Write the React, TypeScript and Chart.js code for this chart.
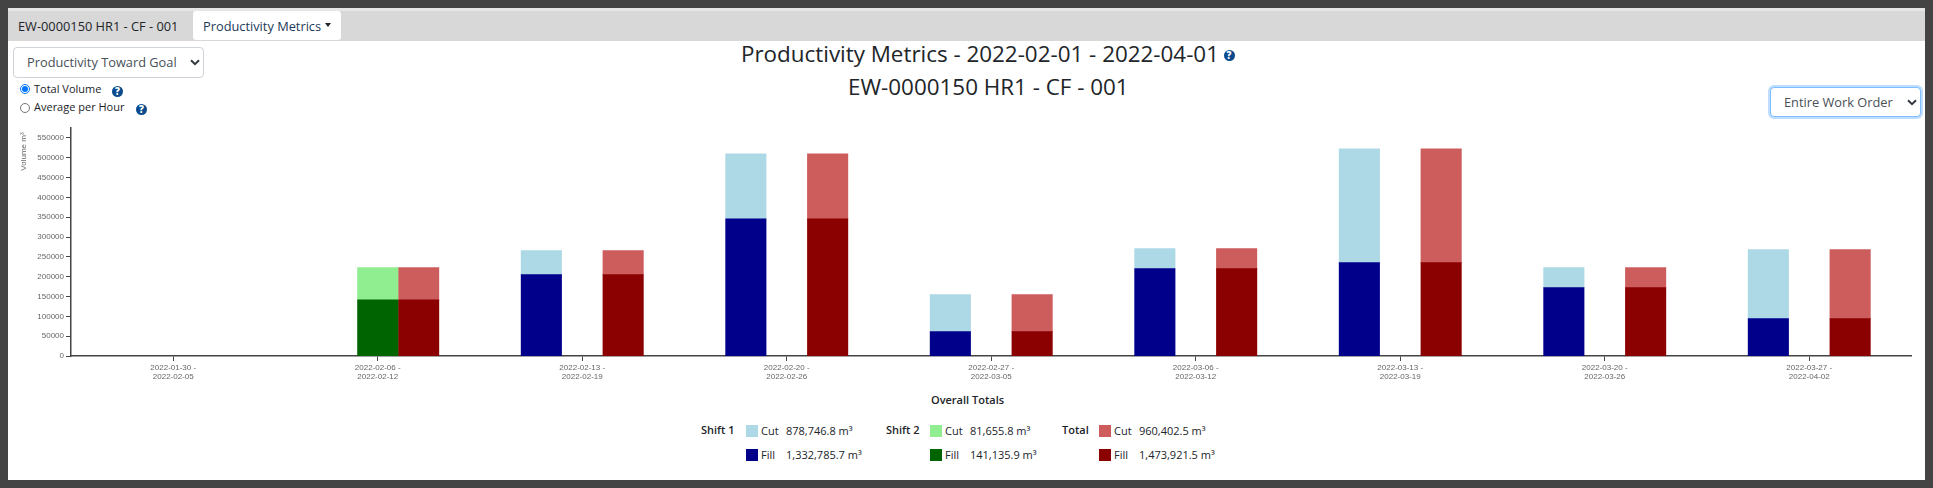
import React, { useEffect, useRef } from "react";
import { Chart, registerables } from "chart.js";

Chart.register(...registerables);

const weeks: string[][] = [
  ["2022-01-30 -", "2022-02-05"],
  ["2022-02-06 -", "2022-02-12"],
  ["2022-02-13 -", "2022-02-19"],
  ["2022-02-20 -", "2022-02-26"],
  ["2022-02-27 -", "2022-03-05"],
  ["2022-03-06 -", "2022-03-12"],
  ["2022-03-13 -", "2022-03-19"],
  ["2022-03-20 -", "2022-03-26"],
  ["2022-03-27 -", "2022-04-02"],
];
const yTickValues = [0, 50000, 100000, 150000, 200000, 250000, 300000, 350000, 400000, 450000, 500000, 550000];
const shift1Fill = [null, null, 204800, 345800, 61200, 219900, 235000, 172000, 94000];
const shift1Cut = [null, null, 60400, 163700, 93100, 50300, 287100, 50400, 173700];
const shift2Fill = [null, 141135.9, null, null, null, null, null, null, null];
const shift2Cut = [null, 81655.8, null, null, null, null, null, null, null];
const totalFill = [null, 141135.9, 204800, 345800, 61200, 219900, 235000, 172000, 94000];
const totalCut = [null, 81655.8, 60400, 163700, 93100, 50300, 287100, 50400, 173700];

const UI = "'Open Sans', sans-serif";
const ink = "#212529";

const abs = (left: number, top: number, extra: React.CSSProperties = {}): React.CSSProperties => ({
  position: "absolute",
  left,
  top,
  whiteSpace: "nowrap",
  fontFamily: UI,
  ...extra,
});

function Help({ x, y, r = 5.5 }: { x: number; y: number; r?: number }) {
  return (
    <div
      style={abs(x - r, y - r, {
        width: r * 2,
        height: r * 2,
        borderRadius: "50%",
        background: "#0b4a8c",
        color: "#fff",
        fontSize: r * 1.75,
        fontWeight: 800,
        lineHeight: `${r * 2}px`,
        textAlign: "center",
      })}
    >
      ?
    </div>
  );
}

function Chevron({ x, y }: { x: number; y: number }) {
  return (
    <svg style={{ position: "absolute", left: x, top: y }} width="10" height="7" viewBox="0 0 10 7">
      <path d="M1 1.2 L5 5.2 L9 1.2" fill="none" stroke="#343a40" strokeWidth="2" />
    </svg>
  );
}

function Select({ x, y, w, h, text, tx, focus }: { x: number; y: number; w: number; h: number; text: string; tx: number; focus?: boolean }) {
  return (
    <div
      style={abs(x, y, {
        width: w,
        height: h,
        boxSizing: "border-box",
        border: `1px solid ${focus ? "#80bdff" : "#ced4da"}`,
        borderRadius: 4,
        boxShadow: focus ? "0 0 0 2px rgba(0,123,255,.25)" : "none",
        background: "#fff",
      })}
    >
      <div style={abs(tx, 0, { lineHeight: `${h - 2}px`, fontSize: 12.8, color: "#495057" })}>{text}</div>
      <Chevron x={w - 15} y={h / 2 - 4.5} />
    </div>
  );
}

function LegendRow({ y, x0, swatch, kind, value, label }: { y: number; x0: number; swatch: string; kind: string; value: string; label?: { text: string; x: number } }) {
  return (
    <>
      {label && (
        <div style={abs(label.x, y - 9, { fontSize: 11, fontWeight: 600, lineHeight: "16px", color: ink })}>{label.text}</div>
      )}
      <div style={{ position: "absolute", left: x0, top: y - 6, width: 12, height: 12, background: swatch }} />
      <div style={abs(x0 + 15, y - 8, { fontSize: 11, lineHeight: "16px", color: ink })}>{kind}</div>
      <div style={abs(x0 + 40, y - 8, { fontSize: 11, lineHeight: "16px", color: ink })}>{value}</div>
    </>
  );
}

export default function App() {
  const ref = useRef<HTMLCanvasElement | null>(null);

  useEffect(() => {
    if (!ref.current) return;
    const bar = (label: string, data: (number | null)[], backgroundColor: string, stack: string) => ({
      label,
      data,
      backgroundColor,
      stack,
      borderWidth: 0,
      inflateAmount: 0.5,
      categoryPercentage: 0.6,
      barPercentage: 0.98,
    });
    const chart = new Chart(ref.current, {
      type: "bar",
      data: {
        labels: weeks,
        datasets: [
          bar("Shift 1 Fill", shift1Fill, "#00008b", "s1"),
          bar("Shift 1 Cut", shift1Cut, "#add8e6", "s1"),
          bar("Shift 2 Fill", shift2Fill, "#006400", "s2"),
          bar("Shift 2 Cut", shift2Cut, "#90ee90", "s2"),
          bar("Total Fill", totalFill, "#8b0000", "t"),
          bar("Total Cut", totalCut, "#cd5c5c", "t"),
        ],
      },
      options: {
        animation: false,
        responsive: false,
        devicePixelRatio: 1,
        layout: { padding: { top: 8, right: 13.5, left: 0, bottom: 0 } },
        plugins: { legend: { display: false }, title: { display: false }, tooltip: { enabled: false } },
        scales: {
          x: {
            stacked: true,
            afterFit: (s: any) => {
              s.height = 24;
            },
            border: { color: "#444", width: 1.5 },
            grid: { drawOnChartArea: false, offset: false, tickColor: "#444", tickLength: 5, tickWidth: 1 },
            ticks: {
              autoSkip: false,
              maxRotation: 0,
              color: "#666",
              padding: 2,
              font: { family: "'Liberation Sans', Arial", size: 8, lineHeight: 1.12 },
            },
          },
          y: {
            stacked: true,
            bounds: "data",
            min: 0,
            max: 575000,
            afterBuildTicks: (s: any) => {
              s.ticks = yTickValues.map((value) => ({ value }));
            },
            afterFit: (s: any) => {
              s.width = 63;
            },
            border: { color: "#444", width: 1.5 },
            grid: { drawOnChartArea: false, tickColor: "#444", tickLength: 5, tickWidth: 1 },
            title: {
              display: true,
              text: "Volume m³  ",
              align: "end",
              color: "#666",
              padding: { top: 11, bottom: 0 },
              font: { family: "'Liberation Sans', Arial", size: 8 },
            },
            ticks: {
              callback: (v: any) => String(v),
              color: "#666",
              padding: 2,
              font: { family: "'Liberation Sans', Arial", size: 8 },
            },
          },
        },
      },
    } as any);
    return () => chart.destroy();
  }, []);

  return (
    <div style={{ position: "fixed", left: 0, top: 0, width: 1933, height: 488, background: "#444", overflow: "hidden" }}>
      <div style={{ position: "absolute", left: 8, top: 8, width: 1917, height: 472, background: "#fff" }}>
        <div style={{ position: "absolute", left: 0, top: 0, width: 1917, height: 3, background: "#e6e6e6" }} />
        <div style={{ position: "absolute", left: 0, top: 3, width: 1917, height: 30, background: "#d8d8d8" }} />
      </div>

      <div style={abs(18, 17, { fontSize: 12.8, lineHeight: "18px", color: ink })}>EW-0000150 HR1 - CF - 001</div>
      <div style={{ position: "absolute", left: 193, top: 11, width: 148, height: 29, background: "#fff", borderRadius: 3 }} />
      <div style={abs(203, 17, { fontSize: 12.8, lineHeight: "18px", color: "#1d3b5a" })}>Productivity Metrics</div>
      <div style={{ position: "absolute", left: 325, top: 23, width: 0, height: 0, borderLeft: "3.5px solid transparent", borderRight: "3.5px solid transparent", borderTop: "4px solid #212529" }} />

      <Select x={13} y={47} w={191} h={31} text="Productivity Toward Goal" tx={13} />
      <input type="radio" name="m" defaultChecked style={{ position: "absolute", left: 20, top: 84, width: 10, height: 10, margin: 0 }} />
      <div style={abs(34, 81, { fontSize: 11, lineHeight: "16px", color: ink })}>Total Volume</div>
      <Help x={117.5} y={91} />
      <input type="radio" name="m" style={{ position: "absolute", left: 20, top: 103, width: 10, height: 10, margin: 0 }} />
      <div style={abs(34, 99, { fontSize: 11, lineHeight: "16px", color: ink })}>Average per Hour</div>
      <Help x={141.5} y={109} />

      <div style={abs(741, 39, { fontSize: 22.4, lineHeight: "30px", color: ink })}>Productivity Metrics - 2022-02-01 - 2022-04-01</div>
      <Help x={1229} y={55} />
      <div style={abs(848, 72, { fontSize: 22.4, lineHeight: "30px", color: ink })}>EW-0000150 HR1 - CF - 001</div>

      <Select x={1770} y={87} w={151} h={30} text="Entire Work Order" tx={13} focus />

      <canvas ref={ref} width={1917} height={260} style={{ position: "absolute", left: 8, top: 120, width: 1917, height: 260 }} />

      <div style={abs(931, 392, { fontSize: 11, fontWeight: 600, lineHeight: "16px", color: ink })}>Overall Totals</div>

      <LegendRow y={431} x0={746} swatch="#add8e6" kind="Cut" value="878,746.8 m³" label={{ text: "Shift 1", x: 701 }} />
      <LegendRow y={455} x0={746} swatch="#00008b" kind="Fill" value="1,332,785.7 m³" />
      <LegendRow y={431} x0={930} swatch="#90ee90" kind="Cut" value="81,655.8 m³" label={{ text: "Shift 2", x: 886 }} />
      <LegendRow y={455} x0={930} swatch="#006400" kind="Fill" value="141,135.9 m³" />
      <LegendRow y={431} x0={1099} swatch="#cd5c5c" kind="Cut" value="960,402.5 m³" label={{ text: "Total", x: 1062 }} />
      <LegendRow y={455} x0={1099} swatch="#8b0000" kind="Fill" value="1,473,921.5 m³" />
    </div>
  );
}
